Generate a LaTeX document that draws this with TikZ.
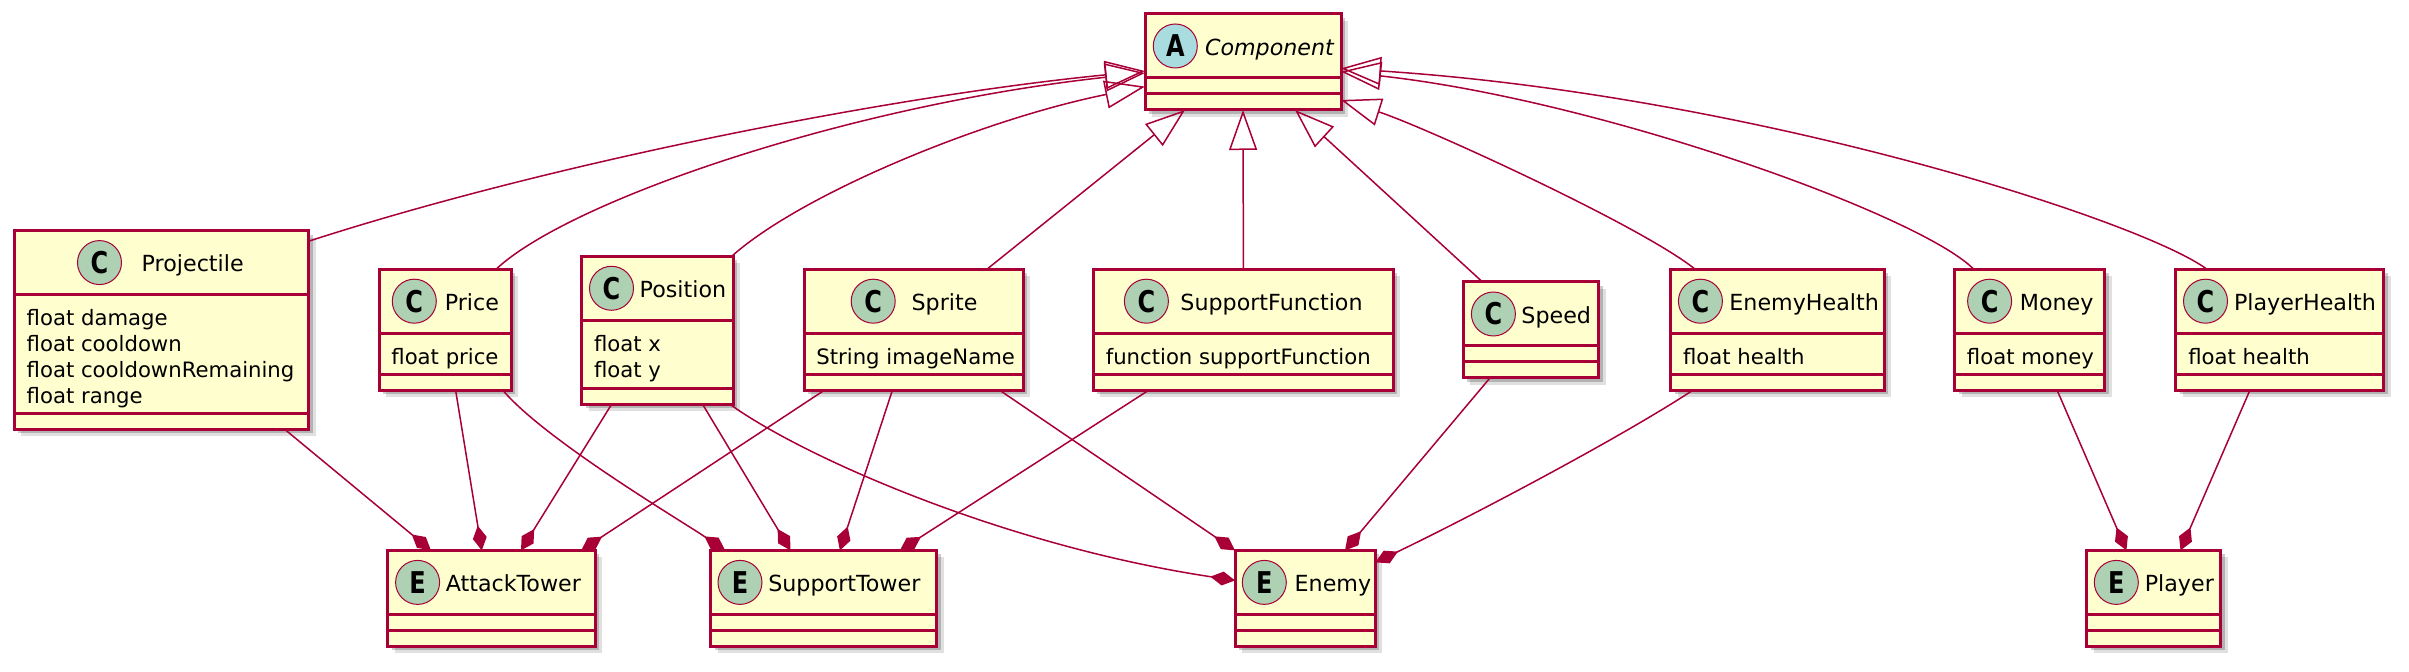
\documentclass[tikz,border=0pt]{standalone}
\usepackage{graphicx}
\usepackage{fontspec}
\setmainfont{DejaVu Sans}
\usetikzlibrary{arrows.meta,shadows}

\definecolor{umlred}{HTML}{A80036}
\definecolor{umlfill}{HTML}{FEFECE}
\definecolor{iconC}{HTML}{ADD1B2}
\definecolor{iconE}{HTML}{ADD1B2}
\definecolor{iconA}{HTML}{A9DCDF}

% #1 name, #2 top left corner, #3 width, #4 height of attribute part,
% #5 letter, #6 icon offset, #7 title offset, #8 title, #9 attributes
\newcommand{\umlclass}[9]{%
  \node[class box, minimum width=#3*0.5pt, minimum height=(80+#4)*0.5pt] (#1) at (#2) {};
  \draw[class line] ([yshift=-32pt]#1.north west) -- ([yshift=-32pt]#1.north east);
  \draw[class line] ([yshift=-32pt-#4*0.5pt]#1.north west) -- ([yshift=-32pt-#4*0.5pt]#1.north east);
  \node[icon, fill=icon#5] (#1-icon) at ([xshift=#6*0.5pt, yshift=-16pt]#1.north west) {\scalebox{0.8}[1]{#5}};
  \node[class name] (#1-name) at ([xshift=#7*0.5pt, yshift=-20.6pt]#1.north west) {#8};
  \if\relax\detokenize{#9}\relax\else
    \node[attrs] (#1-attrs) at ([xshift=6pt, yshift=-32pt]#1.north west) {#9};
  \fi}

\begin{document}
\begin{tikzpicture}[x=0.5pt, y=-0.5pt,
    class box/.style={draw=umlred, fill=umlfill, line width=1.5pt, anchor=north west,
        inner sep=0pt, outer sep=0pt,
        drop shadow={shadow xshift=2pt, shadow yshift=-2pt, fill=black, opacity=0.2},
        drop shadow={shadow xshift=3.5pt, shadow yshift=-3.5pt, fill=black, opacity=0.12}},
    class line/.style={draw=umlred, line width=1.5pt},
    icon/.style={circle, draw=umlred, line width=0.5pt, minimum size=22pt, inner sep=0pt,
        font=\fontsize{15}{15}\selectfont\bfseries},
    class name/.style={anchor=base west, inner sep=0pt, font=\fontsize{11.1}{13}\selectfont},
    attrs/.style={anchor=north west, inner xsep=0pt, inner ysep=7.2pt, align=left,
        font=\fontsize{10.6}{13}\selectfont},
    inherit/.style={draw=umlred, line width=0.75pt, -{Triangle[open, length=20pt, width=14pt]}},
    partof/.style={draw=umlred, line width=0.75pt, -{Diamond[length=12.5pt, width=7pt]}}]

    \useasboundingbox (0,0) rectangle (2409,672);

    % Define classes
    \umlclass{comp}{1145,14}{196}{16}{A}{30.3}{59.6}{\itshape Component}{}
    \umlclass{proj}{14.3,230.6}{294.4}{118.7}{C}{85.2}{127}{Projectile}{float damage\\float cooldown\\float cooldownRemaining\\float range}
    \umlclass{price}{379,269.2}{132.2}{41}{C}{35.3}{65.4}{Price}{float price}
    \umlclass{pos}{581.6,256.3}{151.6}{68}{C}{29.9}{57.7}{Position}{float x\\float y}
    \umlclass{sprite}{804,269.2}{219}{41}{C}{69.2}{107.2}{Sprite}{String imageName}
    \umlclass{supfun}{1093.4,269.2}{300}{41}{C}{53}{86.6}{SupportFunction}{function supportFunction}
    \umlclass{speed}{1463.3,282}{135.2}{16}{C}{30.1}{57.7}{Speed}{}
    \umlclass{ehealth}{1670.7,269.2}{213.6}{41}{C}{29.7}{58.3}{EnemyHealth}{float health}
    \umlclass{money}{1954.5,269.2}{150.1}{41}{C}{35.1}{65}{Money}{float money}
    \umlclass{phealth}{2175.9,269.2}{207.9}{41}{C}{29.6}{57.7}{PlayerHealth}{float health}
    \umlclass{atower}{387.8,550.4}{207.6}{16}{E}{29.8}{57.6}{AttackTower}{}
    \umlclass{stower}{710.7,550.4}{226}{16}{E}{29.3}{57.2}{SupportTower}{}
    \umlclass{enemy}{1235,550.4}{140.4}{16}{E}{29.3}{59.3}{Enemy}{}
    \umlclass{player}{2086.6,550.4}{134.1}{16}{E}{29.7}{57.8}{Player}{}

    % Define edges
    \draw[inherit] ([yshift=-5.3pt]proj.north east) .. controls (560,160) and (900,95) .. ([yshift=-28.5pt]comp.north west);
    \draw[inherit] ([xshift=25.5pt]price.north) .. controls (570,200) and (850,105) .. ([yshift=-29.5pt]comp.north west);
    \draw[inherit] ([xshift=-0.75pt]pos.north east) .. controls (800,195) and (980,120) .. ([yshift=-36.3pt]comp.north west);
    \draw[inherit] ([xshift=-18pt]sprite.north east) -- ([xshift=20pt]comp.south west);
    \draw[inherit] (supfun.north) -- (comp.south);
    \draw[inherit] ([xshift=9.6pt]speed.north west) -- ([xshift=-23pt]comp.south east);
    \draw[inherit] ([xshift=12.2pt]ehealth.north west) .. controls (1640,225) and (1420,125) .. ([yshift=-43pt]comp.north east);
    \draw[inherit] ([xshift=9.6pt]money.north west) .. controls (1920,215) and (1600,100) .. ([yshift=-28.8pt]comp.north east);
    \draw[inherit] ([xshift=15.5pt]phealth.north west) .. controls (2140,220) and (1750,95) .. ([yshift=-27.2pt]comp.north east);

    \draw[partof] ([xshift=-12pt]proj.south east) -- ([xshift=21.6pt]atower.north west);
    \draw[partof] ([xshift=38.3pt]price.south west) -- ([xshift=47pt]atower.north west);
    \draw[partof] ([xshift=15pt]pos.south west) -- ([xshift=66.6pt]atower.north west);
    \draw[partof] ([xshift=10.2pt]sprite.south west) -- ([xshift=-7.1pt]atower.north east);
    \draw[partof] ([xshift=-4.2pt]price.south east) .. controls (545,440) and (680,520) .. ([xshift=7.2pt]stower.north west);
    \draw[partof] ([xshift=-15.3pt]pos.south east) -- ([xshift=39.9pt]stower.north west);
    \draw[partof] ([xshift=44.2pt]sprite.south west) -- ([xshift=-48.4pt]stower.north east);
    \draw[partof] ([xshift=27.7pt]supfun.south west) -- ([xshift=-18.4pt]stower.north east);
    \draw[partof] ([xshift=-1.6pt]pos.south east) .. controls (800,455) and (1000,545) .. ([yshift=-15pt]enemy.north west);
    \draw[partof] ([xshift=-11.7pt]sprite.south east) -- (enemy.north west);
    \draw[partof] ([xshift=13.3pt]speed.south west) -- ([xshift=-15.2pt]enemy.north east);
    \draw[partof] ([xshift=11.1pt]ehealth.south west) .. controls (1620,438) and (1470,517) .. ([yshift=-6pt]enemy.north east);
    \draw[partof] ([xshift=51.3pt]money.south west) -- ([xshift=19.9pt]player.north west);
    \draw[partof] ([xshift=37pt]phealth.south west) -- ([xshift=-20.1pt]player.north east);
\end{tikzpicture}
\end{document}
